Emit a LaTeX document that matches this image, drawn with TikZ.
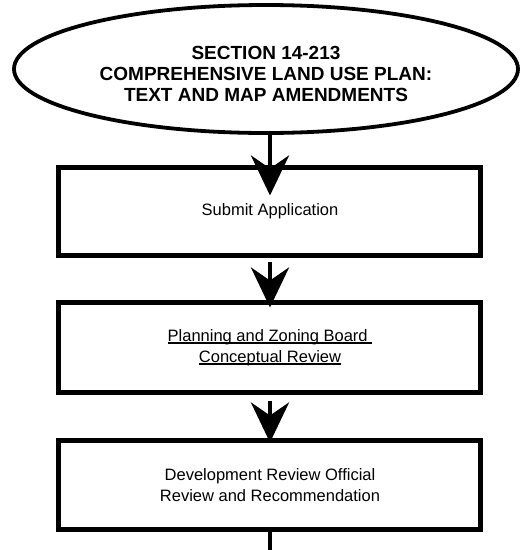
\documentclass[tikz,border=0pt]{standalone}
\usepackage{fontspec}
\setmainfont{Liberation Sans}
\usetikzlibrary{positioning,shapes.geometric,arrows.meta}

\newsavebox\ulsave
\newcommand{\ulined}[1]{\sbox\ulsave{#1}\rlap{\rule[-3pt]{\wd\ulsave}{1.8pt}}\usebox\ulsave}

\tikzset{
  stepbox/.style={draw, rectangle, line width=5pt, minimum width=422pt, minimum height=88pt,
    align=center, font=\fontsize{16.5}{21}\selectfont},
  flow/.style={line width=4.5pt, -{Stealth[length=40pt,width=38pt,inset=13pt]}}
}

\begin{document}
\begin{tikzpicture}[x=1pt, y=1pt, node distance=137pt]
    \useasboundingbox (-266,-481) rectangle (254,69);
    \node (sec) [draw, ellipse, line width=3.8pt, minimum width=504pt, minimum height=128pt, inner sep=0pt] {};
    \node (sectext) [align=center, font=\bfseries\fontsize{19}{21}\selectfont, yshift=-5pt] at (sec.center) {SECTION 14-213\\COMPREHENSIVE LAND USE PLAN:\\TEXT AND MAP AMENDMENTS};
    \node (apply) [stepbox, below of=sec, node distance=142.5pt, xshift=4pt] {Submit Application};
    \node (pzb) [stepbox, below of=apply, node distance=136pt, minimum height=90pt] {\ulined{Planning and Zoning Board\ }\\\ulined{Conceptual Review}};
    \node (dro) [stepbox, below of=pzb, node distance=137.5pt, minimum height=89pt] {Development Review Official\\Review and Recommendation};
    \coordinate (next) at ([yshift=-40pt]dro.south);

    \draw[flow, shorten >=-30.5pt] (apply.north |- sec.south) -- (apply.north);
    \draw[flow, shorten <=3.5pt, shorten >=-7.5pt] (apply.south) -- (pzb.north);
    \draw[flow, shorten <=5.5pt, shorten >=-4.5pt] (pzb.south) -- (dro.north);
    \draw[line width=4.5pt] (dro.south) -- (next);
\end{tikzpicture}
\end{document}
